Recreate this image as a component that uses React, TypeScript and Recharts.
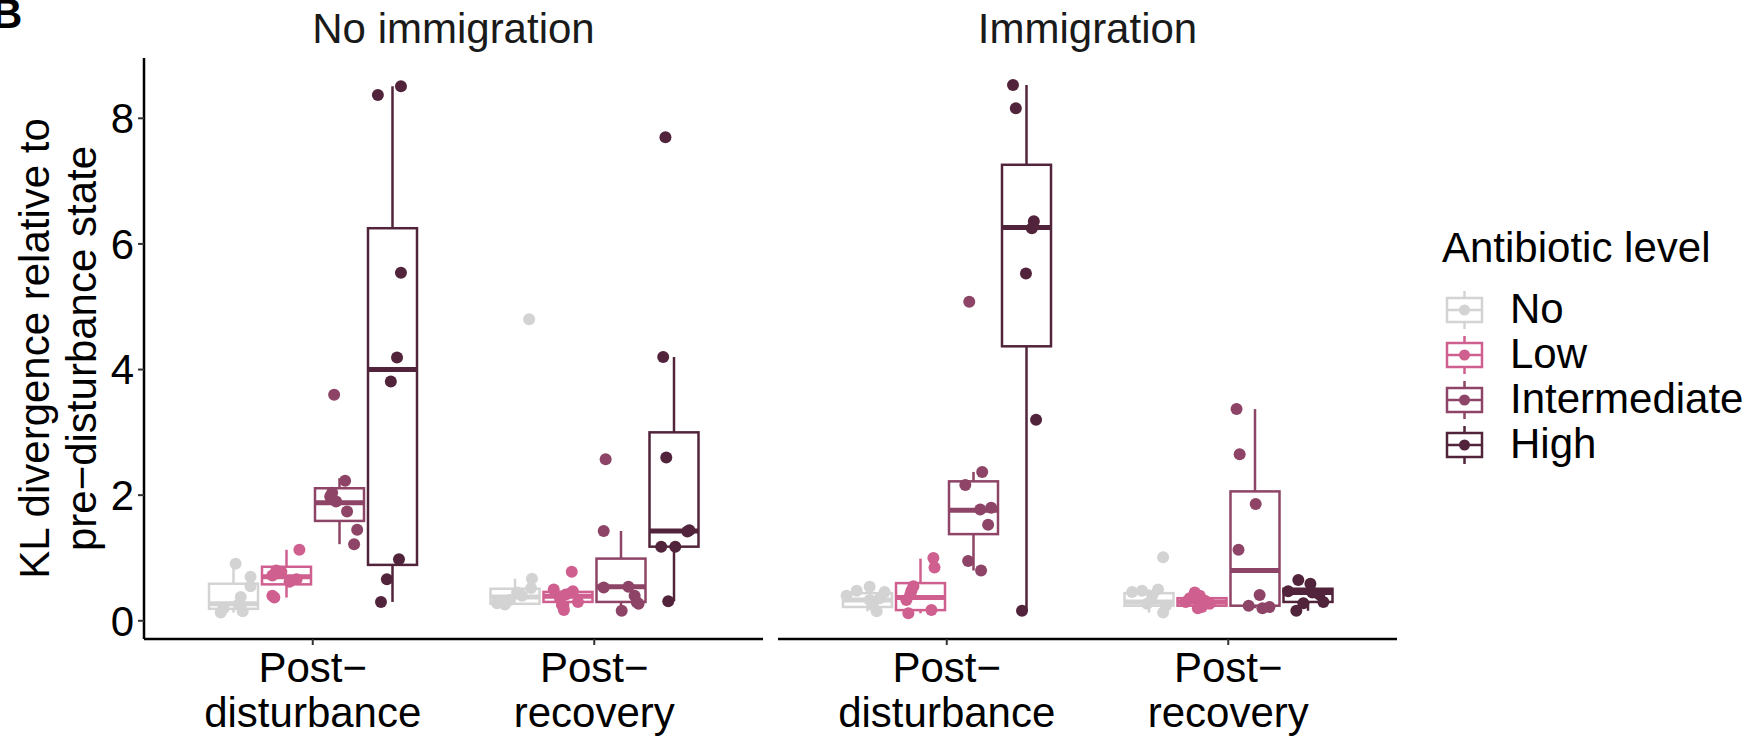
import React from 'react';
import { ComposedChart, Bar, Scatter, XAxis, YAxis } from 'recharts';

const levels = ['No', 'Low', 'Intermediate', 'High'];
const levelColors = ['#D3D3D3', '#CF5F8F', '#8E4466', '#52243B'];
const categories = ['Post−disturbance', 'Post−recovery'];
const panels = ['No immigration', 'Immigration'];
const yTicks = [0, 2, 4, 6, 8];

// box stats per level: [lower whisker, q1, median, q3, upper whisker]
const boxNoImmDist = [[0.13, 0.19, 0.27, 0.59, 0.91], [0.37, 0.58, 0.7, 0.86, 1.13], [1.22, 1.59, 1.88, 2.11, 2.27], [0.3, 0.89, 4.0, 6.25, 8.51]];
const boxNoImmRec = [[0.26, 0.27, 0.38, 0.51, 0.67], [0.17, 0.3, 0.39, 0.46, 0.52], [0.16, 0.3, 0.54, 0.99, 1.43], [0.31, 1.18, 1.43, 3.0, 4.2]];
const boxImmDist = [[0.15, 0.22, 0.33, 0.44, 0.54], [0.12, 0.17, 0.37, 0.6, 0.99], [0.8, 1.38, 1.76, 2.22, 2.37], [0.16, 4.37, 6.26, 7.26, 8.53]];
const boxImmRec = [[0.13, 0.24, 0.3, 0.44, 0.5], [0.17, 0.24, 0.3, 0.36, 0.45], [0.2, 0.24, 0.8, 2.06, 3.37], [0.16, 0.3, 0.45, 0.51, 0.65]];

// individual samples (KL divergence) per level
const ptsNoImmDist = [
  [0.91, 0.7, 0.55, 0.38, 0.26, 0.2, 0.15, 0.13],
  [1.13, 0.8, 0.78, 0.72, 0.66, 0.62, 0.4, 0.37],
  [3.6, 2.23, 2.04, 1.98, 1.9, 1.74, 1.45, 1.22],
  [8.51, 8.37, 5.54, 4.19, 3.81, 0.98, 0.66, 0.3],
];
const ptsNoImmRec = [
  [4.8, 0.67, 0.52, 0.45, 0.4, 0.33, 0.28, 0.26],
  [0.78, 0.5, 0.47, 0.42, 0.36, 0.3, 0.25, 0.17],
  [2.57, 1.43, 0.54, 0.53, 0.4, 0.3, 0.27, 0.16],
  [7.7, 4.2, 2.6, 1.44, 1.42, 1.18, 1.18, 0.31],
];
const ptsImmDist = [
  [0.54, 0.48, 0.46, 0.4, 0.36, 0.33, 0.25, 0.15],
  [1.0, 0.85, 0.55, 0.48, 0.42, 0.33, 0.17, 0.12],
  [5.08, 2.37, 2.16, 1.8, 1.77, 1.53, 0.95, 0.8],
  [8.53, 8.16, 6.36, 6.25, 5.53, 3.2, 0.16],
];
const ptsImmRec = [
  [1.01, 0.5, 0.48, 0.46, 0.4, 0.27, 0.24, 0.13],
  [0.45, 0.4, 0.36, 0.32, 0.3, 0.27, 0.22, 0.2],
  [3.37, 2.65, 1.86, 1.13, 0.41, 0.24, 0.22, 0.2],
  [0.65, 0.59, 0.47, 0.45, 0.42, 0.3, 0.28, 0.16],
];

// horizontal jitter of each sample (x units)
const jitNoImmDist = [
  [0.007, 0.06, 0.06, 0.025, 0.018, -0.036, 0.032, -0.046],
  [0.046, -0.036, -0.018, -0.05, 0.036, 0.011, -0.05, -0.043],
  [-0.018, 0.021, -0.025, -0.032, -0.011, 0.028, 0.064, 0.053],
  [0.032, -0.05, 0.032, 0.018, -0.004, 0.025, -0.018, -0.039],
];
const jitNoImmRec = [
  [0.05, 0.06, 0.057, 0.007, 0.025, -0.018, -0.064, -0.036],
  [0.014, -0.05, 0.018, -0.007, -0.028, 0.036, -0.021, -0.014],
  [-0.053, -0.06, 0.028, -0.06, 0.05, 0.057, 0.064, 0.004],
  [-0.028, -0.036, -0.025, 0.057, 0.05, -0.043, 0.007, -0.018],
];
const jitImmDist = [
  [0.007, -0.039, 0.06, -0.075, 0.043, 0.007, 0.018, 0.032],
  [0.046, 0.05, -0.025, -0.032, -0.036, -0.05, 0.039, -0.043],
  [-0.014, 0.032, -0.028, 0.064, 0.025, 0.053, -0.018, 0.028],
  [-0.046, -0.036, 0.028, 0.021, 0, 0.036, -0.014],
];
const jitImmRec = [
  [0.05, 0.032, -0.025, -0.06, 0.011, -0.007, 0.06, 0.05],
  [-0.025, -0.007, -0.043, 0.011, -0.057, 0.028, 0, -0.014],
  [-0.064, -0.053, 0.004, -0.057, 0.018, -0.021, 0.053, 0.028],
  [-0.032, 0.011, -0.068, 0.018, 0.043, 0.057, -0.014, -0.039],
];

const Y_DOMAIN: [number, number] = [-0.29, 8.96];
const DODGE = 0.1875;
const FONT = "'Liberation Sans', Arial, Helvetica, sans-serif";

const buildRows = (boxes: number[][][]) =>
  categories.map((cat, ci) => {
    const row: any = { cat };
    levels.forEach((lv, li) => {
      const s = boxes[ci][li];
      row[lv] = [s[0], s[4]];
      row[lv + '_s'] = s;
    });
    return row;
  });

const buildPoints = (vals: number[][][], jit: number[][][], li: number) => {
  const out: { x: number; y: number }[] = [];
  vals.forEach((catVals, ci) => {
    catVals[li].forEach((v, k) => {
      out.push({ x: ci + 1 + (li - 1.5) * DODGE + jit[ci][li][k], y: v });
    });
  });
  return out;
};

const BoxShape = (props: any) => {
  const { x, y, width, height, payload, li } = props;
  const s = payload[levels[li] + '_s'];
  const [lo, q1, med, q3, hi] = s;
  const color = levelColors[li];
  const top = Math.min(y, y + height);
  const h = Math.abs(height);
  const ppu = hi > lo ? h / (hi - lo) : 0;
  const py = (v: number) => top + (hi - v) * ppu;
  const cx = x + width / 2;
  return (
    <g>
      <line x1={cx} x2={cx} y1={py(hi)} y2={py(q3)} stroke={color} strokeWidth={2.5} />
      <line x1={cx} x2={cx} y1={py(q1)} y2={py(lo)} stroke={color} strokeWidth={2.5} />
      <rect x={x} y={py(q3)} width={width} height={Math.max(py(q1) - py(q3), 0.5)} fill="#fff" stroke={color} strokeWidth={2.5} />
      <line x1={x} x2={x + width} y1={py(med)} y2={py(med)} stroke={color} strokeWidth={5} />
    </g>
  );
};

const CatTick = (props: any) => {
  const { x, y, payload } = props;
  const [a, b] = String(payload.value).split('−');
  return (
    <g>
      <text x={x} y={y + 35} textAnchor="middle" fontSize={42} fill="#000">{a + '−'}</text>
      <text x={x} y={y + 80} textAnchor="middle" fontSize={42} fill="#000">{b}</text>
    </g>
  );
};

type PanelProps = {
  boxes: number[][][];
  vals: number[][][];
  jit: number[][][];
  showY: boolean;
  width: number;
  left: number;
};

const Panel = ({ boxes, vals, jit, showY, width, left }: PanelProps) => {
  const rows = buildRows(boxes);
  return (
    <ComposedChart
      width={width}
      height={737}
      data={rows}
      margin={{ top: 58, right: 0, bottom: 0, left }}
      barCategoryGap={37}
      barGap={4}
    >
      <XAxis
        dataKey="cat"
        type="category"
        height={98}
        padding={{ left: 28, right: 28 }}
        interval={0}
        tick={<CatTick />}
        tickSize={6}
        tickLine={{ stroke: '#333', strokeWidth: 2 }}
        axisLine={{ stroke: '#000', strokeWidth: 2.5 }}
      />
      <XAxis xAxisId="num" type="number" dataKey="x" domain={[0.4, 2.6]} allowDataOverflow hide />
      <YAxis
        type="number"
        domain={Y_DOMAIN}
        ticks={yTicks}
        allowDataOverflow
        hide={!showY}
        width={144}
        tickSize={6}
        tickMargin={4}
        tick={{ fontSize: 42, fill: '#000' }}
        tickLine={{ stroke: '#333', strokeWidth: 2 }}
        axisLine={{ stroke: '#000', strokeWidth: 2.5 }}
      />
      {levels.map((lv, li) => (
        <Bar
          key={lv}
          dataKey={lv}
          fill={levelColors[li]}
          isAnimationActive={false}
          shape={(p: any) => <BoxShape {...p} li={li} />}
        />
      ))}
      {levels.map((lv, li) => (
        <Scatter
          key={'pts-' + lv}
          xAxisId="num"
          data={buildPoints(vals, jit, li)}
          dataKey="y"
          isAnimationActive={false}
          shape={(p: any) => <circle cx={p.cx} cy={p.cy} r={6} fill={levelColors[li]} />}
        />
      ))}
    </ComposedChart>
  );
};

const App = () => {
  const legendY = [310, 355, 400, 445];
  return (
    <div style={{ position: 'absolute', left: 0, top: 0, width: 1756, height: 737, background: '#fff', fontFamily: FONT }}>
      <div style={{ position: 'absolute', left: 0, top: 0 }}>
        <Panel boxes={[boxNoImmDist, boxNoImmRec]} vals={[ptsNoImmDist, ptsNoImmRec]} jit={[jitNoImmDist, jitNoImmRec]} showY width={763} left={0} />
      </div>
      <div style={{ position: 'absolute', left: 770, top: 0 }}>
        <Panel boxes={[boxImmDist, boxImmRec]} vals={[ptsImmDist, ptsImmRec]} jit={[jitImmDist, jitImmRec]} showY={false} width={627} left={8} />
      </div>
      <svg width={1756} height={737} style={{ position: 'absolute', left: 0, top: 0, pointerEvents: 'none' }}>
        <text x={-8} y={28} fontSize={42} fontWeight="bold" fill="#000">B</text>
        <text x={453.5} y={43} fontSize={42} textAnchor="middle" fill="#1A1A1A">{panels[0]}</text>
        <text x={1087.5} y={43} fontSize={42} textAnchor="middle" fill="#1A1A1A">{panels[1]}</text>
        <text transform="translate(49,348.5) rotate(-90)" fontSize={42} textAnchor="middle" fill="#000">KL divergence relative to</text>
        <text transform="translate(96,348.5) rotate(-90)" fontSize={42} textAnchor="middle" fill="#000">pre−disturbance state</text>
        <text x={1442} y={262} fontSize={42} fill="#000">Antibiotic level</text>
        {levels.map((lv, i) => {
          const cy = legendY[i];
          const c = levelColors[i];
          return (
            <g key={lv}>
              <line x1={1464.5} x2={1464.5} y1={cy - 19} y2={cy + 19} stroke={c} strokeWidth={2.5} />
              <rect x={1447} y={cy - 12} width={35} height={24} fill="#fff" stroke={c} strokeWidth={2.5} />
              <line x1={1447} x2={1482} y1={cy} y2={cy} stroke={c} strokeWidth={2.5} />
              <circle cx={1464.5} cy={cy} r={5.5} fill={c} />
              <text x={1510} y={cy + 13} fontSize={42} fill="#000">{lv}</text>
            </g>
          );
        })}
      </svg>
    </div>
  );
};

export default App;
